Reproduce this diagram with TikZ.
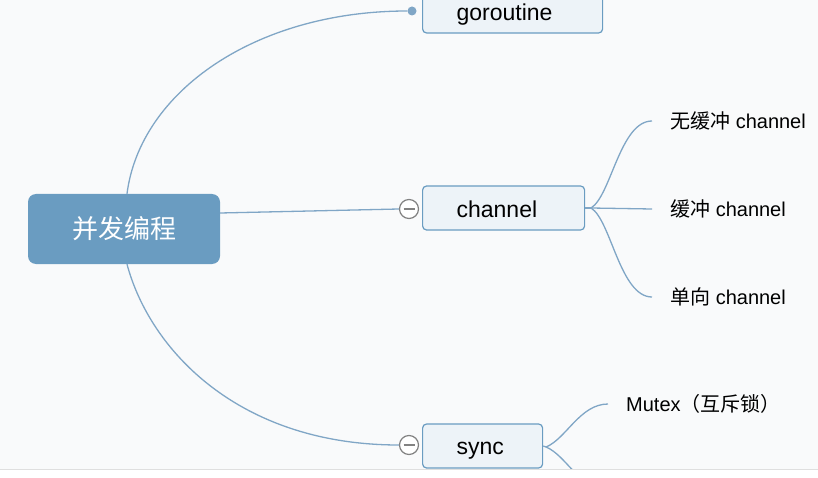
\documentclass[tikz,border=0pt]{standalone}
\usepackage{fontspec}
\setmainfont{Liberation Sans}
\newfontfamily\cjk{Noto Sans CJK SC}
\definecolor{mapblue}{RGB}{106,156,193}
\definecolor{linkblue}{RGB}{128,166,198}
\definecolor{boxfill}{RGB}{237,243,248}
\definecolor{paper}{RGB}{249,250,251}
\definecolor{foldgray}{RGB}{130,130,130}

\begin{document}
\begin{tikzpicture}[x=1pt, y=-1pt,
  root/.style={fill=mapblue, rounded corners=8pt, minimum width=192pt, minimum height=70pt,
    text=white, font=\cjk\fontsize{26}{30}\selectfont},
  topic/.style={draw=mapblue, fill=boxfill, line width=1.2pt, rounded corners=4pt,
    minimum height=44pt, inner xsep=34pt, text width=#1, align=left, anchor=west,
    text height=20pt, text depth=0pt, font=\fontsize{23}{27}\selectfont},
  leaf/.style={anchor=west, inner xsep=18pt, inner ysep=0pt, font=\fontsize{20}{24}\selectfont},
  fold/.style={circle, draw=foldgray, fill=white, line width=1.2pt, minimum size=19pt, inner sep=0pt,
    path picture={\draw[foldgray, line width=1.4pt]
      ([xshift=-5.5pt]path picture bounding box.center) -- ([xshift=5.5pt]path picture bounding box.center);}},
  link/.style={draw=linkblue, line width=1.3pt}]
  \useasboundingbox (0,0) rectangle (818,478);
  \fill[white] (0,0) rectangle (818,478);
  \fill[paper] (0,0) rectangle (818,469);
  \draw[gray!25, line width=1pt] (0,469) -- (818,469);

  \begin{scope}
  \clip (0,0) rectangle (818,468.5);
  \node[root] (prog) at (124,229) {并发编程};
  \node[topic=112pt] (gor) at (422,11) {goroutine};
  \node[topic=94pt] (chan) at (422,208) {channel};
  \node[topic=52pt, text height=16pt] (sync) at (422,446) {sync};
  \node[fold] (chanfold) at (409,209) {};
  \node[fold] (syncfold) at (409,445) {};
  \node[circle, fill=linkblue, minimum size=9pt, inner sep=0pt] (gordot) at (412,11) {};

  \draw[link] ([xshift=3pt]prog.north) .. controls +(13,-102) and +(-152,0) .. (gordot.west);
  \draw[link] ([yshift=16pt]prog.east) -- (chanfold.west);
  \draw[link] ([xshift=3pt]prog.south) .. controls +(23,86) and +(-160,0) .. (syncfold.west);

  \node[leaf] (unbuf) at (652,121) {{\cjk 无缓冲} channel};
  \node[leaf] (buf) at (652,209) {{\cjk 缓冲} channel};
  \node[leaf] (oneway) at (652,297) {{\cjk 单向} channel};
  \coordinate (chanjn) at (591,208);
  \draw[link] (chan.east) -- (chanjn);
  \draw[link] (chanjn) .. controls +(20,-12) and +(-32,0) .. (unbuf.west);
  \draw[link] (chanjn) -- (buf.west);
  \draw[link] (chanjn) .. controls +(20,12) and +(-32,0) .. (oneway.west);

  \node[leaf] (mutex) at (608,404) {Mutex{\cjk （互斥锁）}};
  \coordinate (syncjn) at (546,447);
  \coordinate (syncend) at (608,490);
  \draw[link] (sync.east) -- (syncjn);
  \draw[link] (syncjn) .. controls +(20,-8) and +(-28,0) .. (mutex.west);
  \draw[link] (syncjn) .. controls +(20,8) and +(-28,0) .. (syncend);
  \end{scope}
\end{tikzpicture}
\end{document}
